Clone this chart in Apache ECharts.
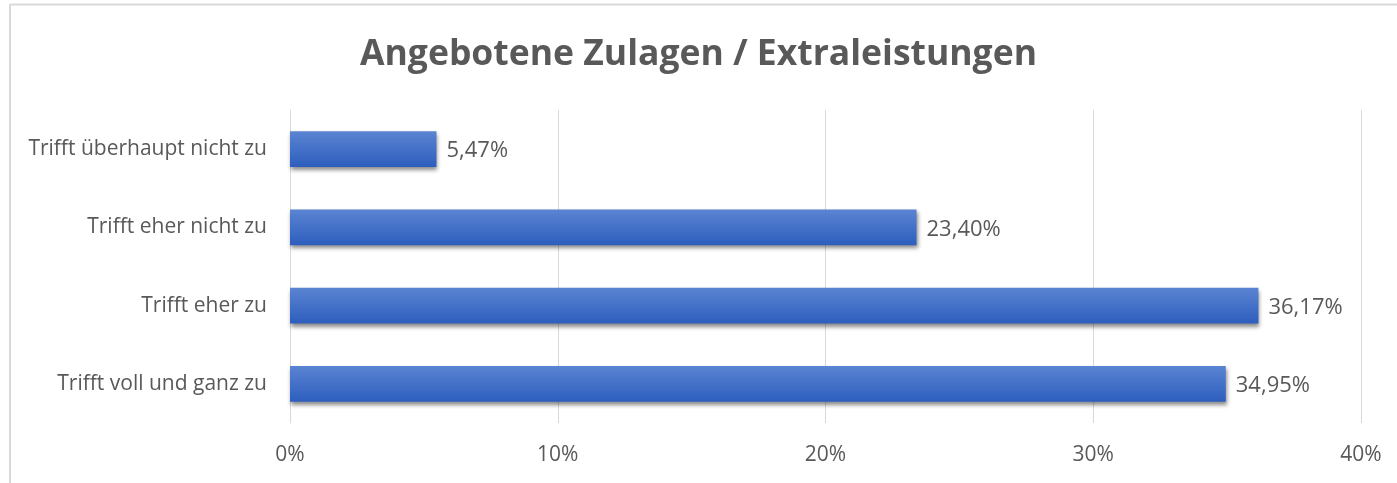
<!DOCTYPE html>
<html>
<head>
<meta charset="utf-8">
<script src="https://cdn.jsdelivr.net/npm/echarts@6/dist/echarts.min.js"></script>
<style>
  html, body { margin: 0; padding: 0; background: #fff; }
  #main { width: 1397px; height: 483px; }
</style>
</head>
<body>
<div id="main"></div>
<script>
var categories = ['Trifft überhaupt nicht zu', 'Trifft eher nicht zu', 'Trifft eher zu', 'Trifft voll und ganz zu'];
var values = [5.47, 23.40, 36.17, 34.95];
var tickValues = [0, 10, 20, 30, 40];

var chartDom = document.getElementById('main');
var myChart = echarts.init(chartDom);
var textColor = '#595959';
var fontFam = '"Open Sans", sans-serif';

var option = {
  animation: false,
  graphic: [
    { type: 'line', shape: { x1: 10, y1: 4.5, x2: 1397, y2: 4.5 }, style: { stroke: '#d9d9d9', lineWidth: 2 } },
    { type: 'line', shape: { x1: 10, y1: 4, x2: 10, y2: 483 }, style: { stroke: '#d9d9d9', lineWidth: 2 } }
  ],
  title: {
    text: 'Angebotene Zulagen / Extraleistungen',
    left: 'center',
    top: 32,
    textStyle: { fontFamily: fontFam, fontSize: 35.5, fontWeight: 'bold', color: textColor }
  },
  grid: { left: 290, right: 36, top: 110, bottom: 60 },
  xAxis: {
    type: 'value',
    min: tickValues[0],
    max: tickValues[tickValues.length - 1],
    interval: 10,
    axisLine: { show: false },
    axisTick: { show: false },
    splitLine: { lineStyle: { color: '#d9d9d9', width: 1 } },
    axisLabel: {
      formatter: '{value}%',
      color: textColor,
      fontFamily: fontFam,
      fontSize: 21,
      margin: 22
    }
  },
  yAxis: {
    type: 'category',
    inverse: true,
    data: categories,
    axisLine: { lineStyle: { color: '#d9d9d9', width: 1 } },
    axisTick: { show: false },
    axisLabel: {
      color: textColor,
      fontFamily: fontFam,
      fontSize: 21,
      margin: 23
    }
  },
  series: [
    {
      type: 'bar',
      data: values,
      barCategoryGap: '54%',
      itemStyle: {
        color: new echarts.graphic.LinearGradient(0, 0, 0, 1, [
          { offset: 0, color: '#5b84d2' },
          { offset: 1, color: '#2d5ebe' }
        ]),
        shadowColor: 'rgba(0,0,0,0.45)',
        shadowBlur: 4,
        shadowOffsetX: 1,
        shadowOffsetY: 3
      },
      label: {
        show: true,
        position: 'right',
        distance: 10,
        offset: [0, 2],
        color: textColor,
        fontFamily: fontFam,
        fontSize: 22,
        formatter: function (p) { return p.value.toFixed(2).replace('.', ',') + '%'; }
      }
    }
  ]
};

option && myChart.setOption(option);
</script>
</body>
</html>
